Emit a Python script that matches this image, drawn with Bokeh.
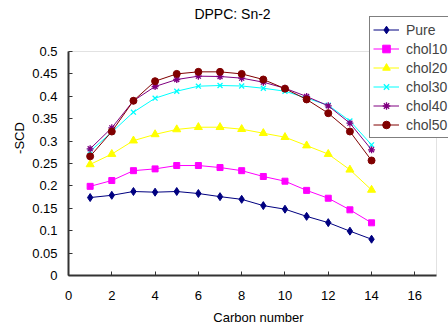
from bokeh.plotting import figure
from bokeh.models import Range1d, FixedTicker, Legend, LegendItem, Label, BoxAnnotation
from bokeh.embed import file_html
from bokeh.resources import INLINE

carbon = list(range(1, 15))
pure = [0.174, 0.179, 0.1875, 0.186, 0.1875, 0.183, 0.176, 0.170, 0.156, 0.148, 0.132, 0.118, 0.099, 0.081]
chol10 = [0.199, 0.212, 0.234, 0.238, 0.2455, 0.2455, 0.241, 0.234, 0.221, 0.2105, 0.190, 0.1725, 0.1466, 0.1176]
chol20 = [0.248, 0.271, 0.301, 0.315, 0.326, 0.331, 0.331, 0.3266, 0.3176, 0.3087, 0.290, 0.271, 0.236, 0.191]
chol30 = [0.2775, 0.320, 0.3646, 0.3958, 0.4114, 0.4226, 0.4241, 0.423, 0.418, 0.4114, 0.396, 0.380, 0.345, 0.2917]
chol40 = [0.2828, 0.3296, 0.390, 0.4219, 0.4375, 0.4449, 0.4442, 0.4405, 0.4315, 0.418, 0.3996, 0.3787, 0.340, 0.2806]
chol50 = [0.266, 0.3214, 0.390, 0.4337, 0.450, 0.4546, 0.4546, 0.450, 0.4375, 0.417, 0.393, 0.3623, 0.3214, 0.2567]

series_names = ["Pure", "chol10", "chol20", "chol30", "chol40", "chol50"]
series_values = [pure, chol10, chol20, chol30, chol40, chol50]
colors = ["#000080", "#ff00ff", "#ffff00", "#00ffff", "#800080", "#800000"]
markers = ["diamond", "square", "triangle", "x", "asterisk", "circle"]
sizes = [8, 6, 8, 7, 7, 7]
mline = [1, 1, 1, 1.3, 1.3, 1]

x_ticks = [0, 2, 4, 6, 8, 10, 12, 14, 16]
y_ticks = [0, 0.05, 0.1, 0.15, 0.2, 0.25, 0.3, 0.35, 0.4, 0.45, 0.5]
y_tick_labels = ["0", "0.05", "0.1", "0.15", "0.2", "0.25", "0.3", "0.35", "0.4", "0.45", "0.5"]

X_MAX = 17
Y_MAX = 0.5
FONT = "Liberation Sans"

# frame is extended to the right and top so the legend and title (which lie
# outside the plot border in the reference) are not clipped; axis bounds and a
# border box keep the visible plot area at 0..17 x 0..0.5
W, H = 448, 331
LEFT, BOTTOM = 68, 56
PLOT_W, PLOT_H = 368, 224
frame_w = W - LEFT
frame_h = H - BOTTOM
x_end = X_MAX * frame_w / PLOT_W
y_end = Y_MAX * frame_h / PLOT_H

p = figure(width=W, height=H, output_backend="svg", toolbar_location=None,
           x_range=Range1d(0, x_end), y_range=Range1d(0, y_end),
           min_border_left=LEFT, min_border_right=0, min_border_top=0, min_border_bottom=BOTTOM)
p.xgrid.visible = False
p.ygrid.visible = False
p.outline_line_color = None

border = BoxAnnotation(left=0, right=X_MAX, bottom=0, top=Y_MAX, fill_alpha=0,
                       line_color="#a0a0a0", line_width=1, level="underlay")
p.add_layout(border)

p.xaxis.ticker = FixedTicker(ticks=x_ticks)
p.yaxis.ticker = FixedTicker(ticks=y_ticks)
p.yaxis.major_label_overrides = {t: l for t, l in zip(y_ticks, y_tick_labels)}
p.xaxis.bounds = (0, X_MAX)
p.yaxis.bounds = (0, Y_MAX)
for ax in (p.xaxis, p.yaxis):
    ax.axis_line_color = "#333333"
    ax.axis_line_width = 2
    ax.major_tick_in = 4
    ax.major_tick_out = 0
    ax.major_tick_line_color = "#333333"
    ax.minor_tick_line_color = None
    ax.major_label_text_font = FONT
    ax.major_label_text_font_size = "13px"
    ax.major_label_text_color = "black"
    ax.axis_label_text_font = FONT
    ax.axis_label_text_font_size = "13px"
    ax.axis_label_text_font_style = "normal"
    ax.axis_label_text_color = "black"
p.xaxis.axis_label = "Carbon number"
p.yaxis.axis_label = "-SCD"
p.xaxis.major_label_standoff = 15
p.yaxis.major_label_standoff = 11
p.xaxis.axis_label_standoff = 7
p.yaxis.axis_label_standoff = 2

title = Label(x=164, y=262, x_units="screen", y_units="screen", text="DPPC: Sn-2",
              text_font=FONT, text_font_size="14px", text_align="center",
              text_baseline="middle", text_color="black")
p.add_layout(title)

items = []
for name, vals, c, m, s, lw in zip(series_names, series_values, colors, markers, sizes, mline):
    r1 = p.line(carbon, vals, line_color=c, line_width=1)
    r2 = p.scatter(carbon, vals, marker=m, size=s, fill_color=c, line_color=c, line_width=lw)
    items.append(LegendItem(label=name, renderers=[r1, r2]))

legend = Legend(items=items, location=(301, 137), border_line_color="black", border_line_width=1,
                background_fill_color="white", background_fill_alpha=1,
                label_text_font=FONT, label_text_font_size="14px",
                glyph_width=26, glyph_height=19, label_height=19, spacing=0,
                padding=3, margin=0, label_standoff=7)
p.add_layout(legend, "center")

open("out.html", "w").write(file_html(p, INLINE))
